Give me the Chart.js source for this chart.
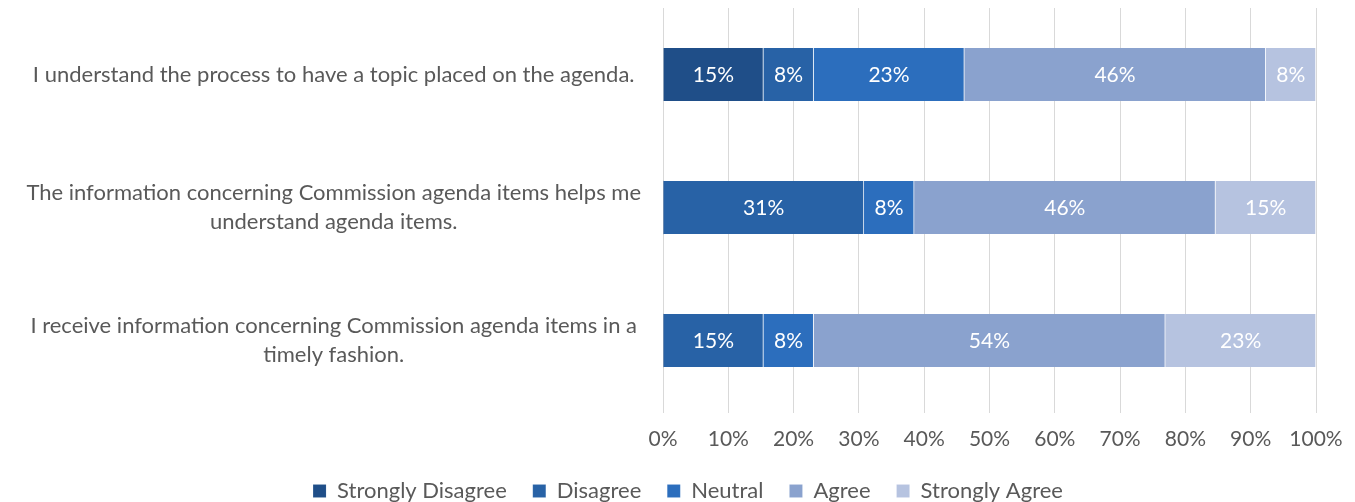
<!DOCTYPE html>
<html>
<head>
<meta charset="utf-8">
<script src="https://cdn.jsdelivr.net/npm/chart.js@4"></script>
<style>
html,body{margin:0;padding:0;background:#fff;}
#wrap{width:1355px;height:502px;}
</style>
</head>
<body>
<div id="wrap"><canvas id="c" width="1355" height="502"></canvas></div>
<script>
const categories = [
  "I understand the process to have a topic placed on the agenda.",
  ["The information concerning Commission agenda items helps me", "understand agenda items."],
  ["I receive information concerning Commission agenda items in a", "timely fashion."]
];
const seriesNames = ["Strongly Disagree", "Disagree", "Neutral", "Agree", "Strongly Agree"];
const stronglyDisagree = [15.38, 0, 0];
const disagree = [7.69, 30.77, 15.38];
const neutral = [23.08, 7.69, 7.69];
const agree = [46.15, 46.15, 53.85];
const stronglyAgree = [7.69, 15.38, 23.08];
const xTicks = [0, 10, 20, 30, 40, 50, 60, 70, 80, 90, 100];
const colors = ["#1f4e88", "#2862a6", "#2c6ebd", "#8aa2ce", "#b6c3e0"];

const FONT = "Lato, 'Liberation Sans', sans-serif";
const TXT = "#595959";

const seriesData = [stronglyDisagree, disagree, neutral, agree, stronglyAgree];

const labelPlugin = {
  id: 'barLabels',
  afterDatasetsDraw(chart) {
    const ctx = chart.ctx;
    ctx.save();
    ctx.fillStyle = '#ffffff';
    ctx.font = '21px ' + FONT;
    ctx.textAlign = 'center';
    ctx.textBaseline = 'middle';
    chart.data.datasets.forEach((ds, i) => {
      const meta = chart.getDatasetMeta(i);
      if (meta.hidden) return;
      meta.data.forEach((bar, j) => {
        const v = ds.data[j];
        if (!v) return;
        const x = (bar.x + bar.base) / 2;
        ctx.fillText(Math.round(v) + '%', x, bar.y + 1);
      });
    });
    ctx.restore();
  }
};

const legendShift = {
  id: 'legendShift',
  afterLayout(chart) {
    const l = chart.legend;
    if (l) { l.left += 30; l.right += 30; }
  }
};

new Chart(document.getElementById('c'), {
  type: 'bar',
  data: {
    labels: categories,
    datasets: seriesNames.map((n, i) => ({
      label: n,
      data: seriesData[i],
      backgroundColor: colors[i],
      borderColor: 'rgba(255,255,255,0.3)',
      borderWidth: { top: 0, bottom: 0, left: 0, right: 1 },
      barThickness: 53
    }))
  },
  options: {
    indexAxis: 'y',
    responsive: false,
    animation: false,
    layout: { padding: { top: 8, right: 39, left: 0, bottom: -10 } },
    plugins: {
      legend: {
        position: 'bottom',
        labels: {
          boxWidth: 13, boxHeight: 13, padding: 26,
          color: TXT,
          font: { family: FONT, size: 22 }
        }
      },
      tooltip: { enabled: false }
    },
    scales: {
      x: {
        stacked: true,
        min: 0, max: 100,
        afterBuildTicks(axis) { axis.ticks = xTicks.map(v => ({ value: v })); },
        afterFit(axis) { axis.height = 47; axis.paddingLeft = 0; axis.paddingRight = 0; },
        ticks: {
          callback: v => v + '%',
          color: TXT,
          font: { family: FONT, size: 21 },
          padding: 14
        },
        grid: { color: '#d9d9d9', lineWidth: 1, drawTicks: true, tickLength: 6, tickColor: '#d9d9d9' },
        border: { display: false }
      },
      y: {
        stacked: true,
        afterFit(axis) { axis.width = 663; axis.paddingTop = 0; axis.paddingBottom = 0; },
        ticks: {
          crossAlign: 'center',
          color: TXT,
          font: { family: FONT, size: 22, lineHeight: 1.32 },
          padding: 22
        },
        grid: { display: false, drawTicks: false },
        border: { display: false }
      }
    }
  },
  plugins: [labelPlugin, legendShift]
});
</script>
</body>
</html>
